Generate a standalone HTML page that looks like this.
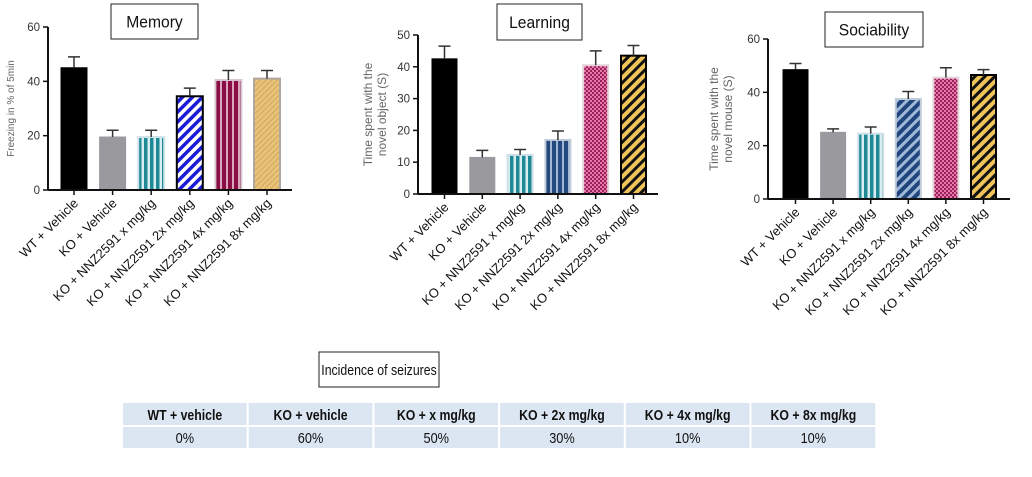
<!DOCTYPE html>
<html><head><meta charset="utf-8"><style>
body{margin:0;background:#fff;width:1032px;height:477px;overflow:hidden;font-family:"Liberation Sans",sans-serif}
svg{position:absolute;left:0;top:0}
</style></head><body>
<svg id="s" width="1032" height="477">
<defs>
<pattern id="pTealV" width="6" height="6" patternUnits="userSpaceOnUse"><rect width="6" height="6" fill="#d8eef2"/><rect width="3.5" height="6" fill="#1f8a96"/></pattern>
<pattern id="pBlueD" width="7" height="7" patternUnits="userSpaceOnUse" patternTransform="rotate(45)"><rect width="7" height="7" fill="#fff"/><rect width="3.5" height="7" fill="#1b1bd6"/></pattern>
<pattern id="pMaroonV" width="6" height="6" patternUnits="userSpaceOnUse"><rect width="6" height="6" fill="#d9a6bb"/><rect width="4" height="6" fill="#8b0d45"/></pattern>
<pattern id="pTanD" width="4" height="4" patternUnits="userSpaceOnUse" patternTransform="rotate(45)"><rect width="4" height="4" fill="#e8c47c"/><rect width="1.5" height="4" fill="#d9ae60"/></pattern>
<pattern id="pNavyV" width="6" height="6" patternUnits="userSpaceOnUse"><rect width="6" height="6" fill="#9fb6d4"/><rect width="4" height="6" fill="#24497f"/></pattern>
<pattern id="pNavyD" width="7" height="7" patternUnits="userSpaceOnUse" patternTransform="rotate(45)"><rect width="7" height="7" fill="#9fb9d8"/><rect width="4" height="7" fill="#20457c"/></pattern>
<pattern id="pPink" width="4" height="4" patternUnits="userSpaceOnUse"><rect width="4" height="4" fill="#e37aa8"/><rect width="2" height="2" fill="#9c1e5a"/><rect x="2" y="2" width="2" height="2" fill="#9c1e5a"/></pattern>
<pattern id="pYelD" width="7" height="7" patternUnits="userSpaceOnUse" patternTransform="rotate(45)"><rect width="7" height="7" fill="#f1c45a"/><rect width="3" height="7" fill="#111"/></pattern>
</defs>
</svg>
<script>
const cats=["WT + Vehicle","KO + Vehicle","KO + NNZ2591 x mg/kg","KO + NNZ2591 2x mg/kg","KO + NNZ2591 4x mg/kg","KO + NNZ2591 8x mg/kg"];
const memoryVals=[45,19.5,19.5,34.5,40.5,41];
const memoryErr=[49,22,22,37.5,44,44];
const memoryTicks=[0,20,40,60];
const learningVals=[42.5,11.5,12.3,17,40.5,43.5];
const learningErr=[46.5,13.7,14,19.8,45,46.7];
const learningTicks=[0,10,20,30,40,50];
const socialVals=[48.5,25,24.5,37.5,45.5,46.5];
const socialErr=[50.8,26.3,27,40.3,49.2,48.5];
const socialTicks=[0,20,40,60];
const seizureGroups=["WT + vehicle","KO + vehicle","KO + x mg/kg","KO + 2x mg/kg","KO + 4x mg/kg","KO + 8x mg/kg"];
const seizureVals=["0%","60%","50%","30%","10%","10%"];

const NS="http://www.w3.org/2000/svg";
const svg=document.getElementById('s');
function mk(tag,attrs,parent){const e=document.createElementNS(NS,tag);for(const k in attrs)e.setAttribute(k,attrs[k]);(parent||svg).appendChild(e);return e;}

function chart(cfg){
  const g=mk('g',{});
  
  
  const ymax=cfg.ticks[cfg.ticks.length-1];
  const y=v=>cfg.y0-(v/ymax)*(cfg.y0-cfg.yTop);
  const x=i=>cfg.x0+i*cfg.step;
  const tb=mk('g',{},g);
  
  
  mk('rect',{x:cfg.tb[0],y:cfg.tb[1],width:cfg.tb[2],height:cfg.tb[3],fill:'#fff',stroke:'#222','stroke-width':1},tb);
  const tt=mk('text',{x:0,y:0,'text-anchor':'middle','font-size':17,fill:'#111',transform:`translate(${cfg.tb[0]+cfg.tb[2]/2},${cfg.tb[1]+cfg.tb[3]/2+6}) scale(0.92,1)`},tb);
  tt.textContent=cfg.title;
  cfg.vals.forEach((v,i)=>{
    const b=mk('rect',{x:x(i),y:y(v),width:cfg.bw,height:cfg.y0-y(v),fill:cfg.fills[i],stroke:cfg.strokes[i],'stroke-width':cfg.sw[i]},g);
    
    
    const cx=x(i)+cfg.bw/2, et=y(cfg.err[i]);
    const e=mk('path',{d:`M${cx},${y(v)}V${et}M${cx-6},${et}H${cx+6}`,stroke:'#333','stroke-width':1.5,fill:'none'},g);
    
    
    mk('line',{x1:cx,x2:cx,y1:cfg.y0,y2:cfg.y0+5,stroke:'#111','stroke-width':1.5},g);
    const lb=mk('text',{x:0,y:0,'text-anchor':'end','font-size':13,fill:'#111',transform:`translate(${cx+5},${cfg.y0+14}) rotate(-45)`},g);
    
    
    lb.textContent=cats[i];
  });
  mk('line',{x1:cfg.ax,x2:cfg.ax,y1:cfg.yTop,y2:cfg.y0,stroke:'#111','stroke-width':2},g);
  mk('line',{x1:cfg.ax,x2:cfg.xEnd,y1:cfg.y0,y2:cfg.y0,stroke:'#111','stroke-width':2},g);
  cfg.ticks.forEach(t=>{
    mk('line',{x1:cfg.ax-5,x2:cfg.ax,y1:y(t),y2:y(t),stroke:'#111','stroke-width':1.5},g);
    const tl=mk('text',{x:cfg.ax-8,y:y(t)+4,'text-anchor':'end','font-size':11.5,fill:'#333'},g);
    
    
    tl.textContent=t;
  });
  const my=(cfg.y0+cfg.yTop)/2;
  cfg.ylab.forEach((l,k)=>{
    const yt=mk('text',{x:0,y:0,'text-anchor':'middle','font-size':cfg.ylabSize,fill:'#666',transform:`translate(${cfg.ylabX+k*14},${my}) rotate(-90)`},g);
    
    
    yt.textContent=l;
  });
}

chart({name:'memory',title:'Memory',tb:[111,4,87,35],vals:memoryVals,err:memoryErr,ticks:memoryTicks,
  ax:48,xEnd:292,yTop:27,y0:190,x0:61,step:38.6,bw:26,
  fills:['#000','#9a9a9e','url(#pTealV)','url(#pBlueD)','url(#pMaroonV)','url(#pTanD)'],
  strokes:['#000','#9a9a9e','#cfe3e8','#000','#d6c8d0','#b0a8a0'],sw:[1,1,2,2,2,2],
  ylab:['Freezing in % of 5min'],ylabSize:10,ylabX:14});
chart({name:'learning',title:'Learning',tb:[497,4,85,36],vals:learningVals,err:learningErr,ticks:learningTicks,
  ax:418,xEnd:658,yTop:35,y0:194,x0:432,step:37.8,bw:25,
  fills:['#000','#9a9a9e','url(#pTealV)','url(#pNavyV)','url(#pPink)','url(#pYelD)'],
  strokes:['#000','#9a9a9e','#cfe0e6','#c0ccd8','#e6d4dc','#000'],sw:[1,1,2,2,2,2],
  ylab:['Time spent with the','novel object (S)'],ylabSize:12,ylabX:372});
chart({name:'sociability',title:'Sociability',tb:[825,12,98,35],vals:socialVals,err:socialErr,ticks:socialTicks,
  ax:768,xEnd:1010,yTop:39,y0:199,x0:783,step:37.6,bw:25,
  fills:['#000','#9a9a9e','url(#pTealV)','url(#pNavyD)','url(#pPink)','url(#pYelD)'],
  strokes:['#000','#9a9a9e','#cfe0e6','#c0ccd8','#e6d4dc','#000'],sw:[1,1,2,2,2,2],
  ylab:['Time spent with the','novel mouse (S)'],ylabSize:12,ylabX:718});

const tg=mk('g',{});


const st=mk('g',{},tg);


mk('rect',{x:319,y:352,width:120,height:35,fill:'#fff',stroke:'#222'},st);
const stt=mk('text',{x:0,y:0,'text-anchor':'middle','font-size':15,fill:'#111',transform:'translate(379,375) scale(0.82,1)'},st);
stt.textContent='Incidence of seizures';
const tx0=123,cw=125.7;
seizureGroups.forEach((h,i)=>{
  const x=tx0+i*cw;
  mk('rect',{x:x,y:403,width:cw-2,height:22,fill:'#dce6f2'},tg);
  mk('rect',{x:x,y:427,width:cw-2,height:21,fill:'#dce6f2'},tg);
  const ht=mk('text',{x:0,y:0,'text-anchor':'middle','font-size':15,'font-weight':'bold',fill:'#111',transform:`translate(${x+cw/2-1},420) scale(0.82,1)`},tg);
  
  
  ht.textContent=h;
  const vt=mk('text',{x:0,y:0,'text-anchor':'middle','font-size':15,fill:'#111',transform:`translate(${x+cw/2-1},443) scale(0.85,1)`},tg);
  
  
  vt.textContent=seizureVals[i];
});
</script>
</body></html>
